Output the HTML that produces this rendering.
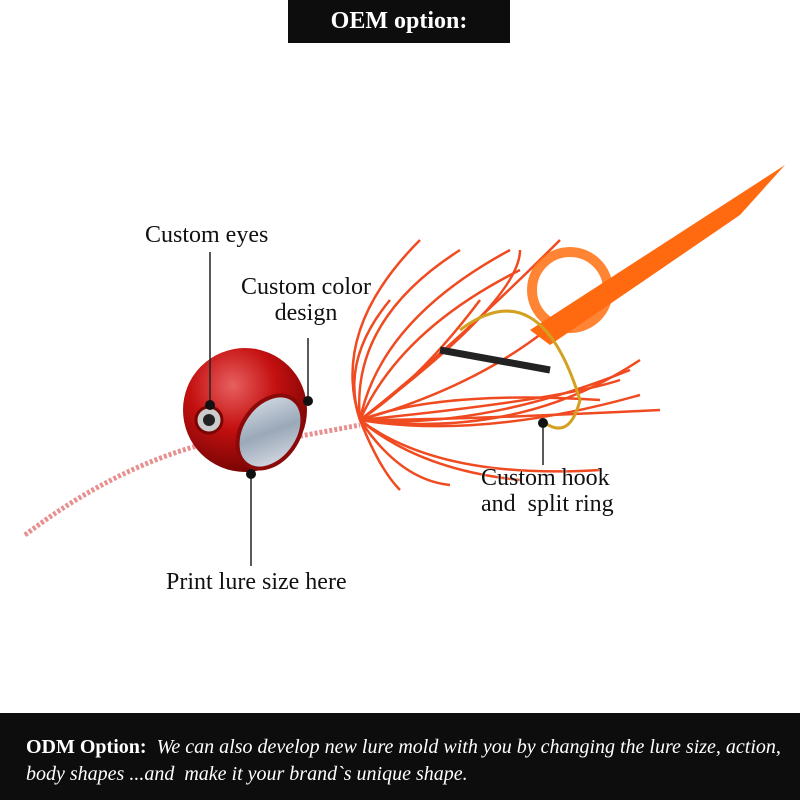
<!DOCTYPE html>
<html><head><meta charset="utf-8"><style>
body{margin:0;width:800px;height:800px;background:#fff;overflow:hidden;position:relative;font-family:"Liberation Serif",serif}
.top{position:absolute;left:288px;top:0;width:222px;height:43px;background:#0d0d0d;color:#fff;font-weight:bold;font-size:24px;text-align:center;line-height:43px}
.bot{position:absolute;left:0;top:713px;width:800px;height:87px;background:#0d0d0d;color:#fff;font-size:20px;line-height:27px;padding:21px 0 0 26px;box-sizing:border-box;white-space:nowrap}
.lbl{position:absolute;font-size:24px;color:#111;text-shadow:0 0 2px #fff;white-space:nowrap}
</style></head><body>
<div class="top">OEM option:</div>
<svg width="800" height="800" style="position:absolute;left:0;top:0">
<defs>
<radialGradient id="h" cx="0.4" cy="0.3" r="0.7"><stop offset="0" stop-color="#e86060"/><stop offset="0.5" stop-color="#c41010"/><stop offset="1" stop-color="#7a0505"/></radialGradient>
<linearGradient id="p" x1="0" y1="0" x2="1" y2="1"><stop offset="0" stop-color="#dfe6ee"/><stop offset="0.5" stop-color="#9aa8b8"/><stop offset="1" stop-color="#e8e8f0"/></linearGradient>
</defs>
<path d="M25 535 Q110 470 200 445" stroke="#e89090" stroke-width="5" fill="none" stroke-dasharray="3 2"/>
<path d="M290 438 L360 425" stroke="#e89090" stroke-width="5" fill="none" stroke-dasharray="3 2"/>
<g stroke="#f04a20" stroke-width="2.5" fill="none">
<path d="M360 420 Q330 330 420 240"/><path d="M360 420 Q350 320 460 250"/><path d="M360 420 Q380 320 510 250"/><path d="M360 420 Q400 330 520 270"/>
<path d="M360 420 Q420 380 480 300"/><path d="M360 420 Q440 390 600 400"/><path d="M360 420 Q460 420 660 410"/><path d="M360 420 Q480 430 630 370"/>
<path d="M360 420 Q420 470 520 480"/><path d="M360 420 Q440 480 600 470"/><path d="M360 420 Q400 480 450 485"/><path d="M360 420 Q380 470 400 490"/>
<path d="M360 420 Q340 360 390 300"/><path d="M360 420 Q450 350 560 240"/><path d="M360 420 Q500 380 580 300"/><path d="M360 420 Q520 440 640 360"/>
<path d="M360 420 Q560 400 620 380"/><path d="M360 420 Q520 300 520 250"/><path d="M360 420 Q480 440 640 395"/>
</g>
<circle cx="570" cy="290" r="38" fill="none" stroke="#ff7010" stroke-width="10" opacity="0.85"/>
<path d="M530 330 L700 220 L785 165 L740 215 L550 345 Z" fill="#ff6a10"/>
<path d="M460 330 Q540 270 580 400 Q570 440 545 423" stroke="#d4a020" stroke-width="3" fill="none"/>
<path d="M440 350 L550 370" stroke="#222" stroke-width="7"/>
<ellipse cx="245" cy="410" rx="62" ry="62" fill="url(#h)"/>
<ellipse cx="270" cy="432" rx="28" ry="40" transform="rotate(35 270 432)" fill="url(#p)" stroke="#8a0a0a" stroke-width="4"/>
<circle cx="209" cy="420" r="13" fill="#ccc" stroke="#7a0505" stroke-width="3"/><circle cx="209" cy="420" r="6" fill="#222"/>
<g stroke="#222" stroke-width="1.5"><line x1="210" y1="252" x2="210" y2="405"/><line x1="308" y1="338" x2="308" y2="401"/><line x1="251" y1="474" x2="251" y2="566"/><line x1="543" y1="423" x2="543" y2="465"/></g>
<g fill="#111"><circle cx="210" cy="405" r="5"/><circle cx="308" cy="401" r="5"/><circle cx="251" cy="474" r="5"/><circle cx="543" cy="423" r="5"/></g>
</svg>
<div class="lbl" style="left:145px;top:222px">Custom eyes</div>
<div class="lbl" style="left:241px;top:274px;text-align:center;line-height:26px">Custom color<br>design</div>
<div class="lbl" style="left:481px;top:465px;line-height:26px">Custom hook<br>and&nbsp; split ring</div>
<div class="lbl" style="left:166px;top:569px">Print lure size here</div>
<div class="bot"><b>ODM Option:</b> <i>&nbsp;We can also develop new lure mold with you by changing the lure size, action,<br>body shapes ...and&nbsp; make it your brand`s unique shape.</i></div>
</body></html>
